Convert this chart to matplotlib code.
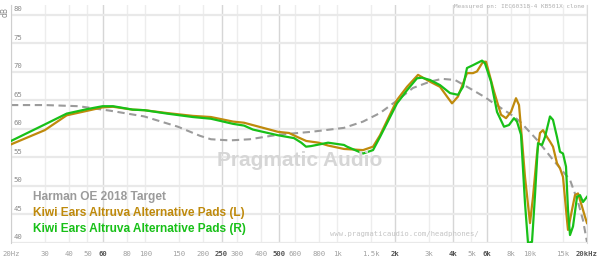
import numpy as np
import matplotlib
matplotlib.use('Agg')
import matplotlib.pyplot as plt

# frequency response data (Hz, dB)
harman_f = [20, 30, 45, 66, 99, 148, 193, 220, 276, 351, 492, 730, 1085, 1363, 1670,
            2050, 2480, 3040, 3510, 4110, 5100, 5800, 6480, 8230, 8960, 10980, 13300,
            16300, 17960, 19060, 20000]
harman_db = [64.2, 64.2, 64.0, 63.2, 62.2, 60.4, 58.8, 58.2, 58.0, 58.2, 59.0, 59.5, 60.2,
             61.3, 62.8, 65.0, 67.2, 68.3, 68.8, 68.6, 66.8, 65.7, 64.6, 62.3, 61.3, 58.1,
             54.6, 51.1, 47.2, 44.0, 40.2]

left_f = [20, 30, 39, 50, 60, 68, 86, 99, 130, 177, 220, 287, 327, 492, 561, 620, 690,
          800, 896, 1085, 1363, 1537, 1671, 2049, 2310, 2636, 3044, 3431, 3731, 3962,
          4258, 4743, 5097, 5348, 5746, 5957, 6250, 6556, 7131, 7572, 8039, 8535, 8849,
          9173, 9508, 10097, 10467, 10980, 11383, 11799, 12378, 12830, 13302, 13956,
          14468, 14997, 15736, 15925, 16708, 17318, 17957, 18836, 19527, 20000]
left_db = [57.3, 59.8, 62.4, 63.2, 63.8, 63.9, 63.4, 63.3, 62.8, 62.3, 62.1, 61.3, 61.1,
           59.5, 59.3, 58.6, 57.9, 57.6, 57.1, 56.5, 56.3, 56.9, 58.9, 65.1, 67.4, 69.5,
           68.3, 67.4, 65.7, 64.5, 65.7, 69.8, 69.8, 70.1, 71.8, 71.8, 69.2, 66.6, 62.5,
           61.9, 63.0, 65.4, 64.2, 58.1, 51.6, 43.5, 48.1, 55.7, 59.3, 59.8, 58.6, 57.8,
           56.9, 54.0, 53.1, 51.6, 44.0, 42.3, 45.8, 48.4, 48.7, 46.4, 44.6, 43.5]

right_f = [20, 30, 39, 50, 60, 68, 86, 99, 130, 177, 220, 287, 327, 364, 492, 596, 650,
           688, 730, 896, 1085, 1125, 1363, 1537, 1671, 2049, 2310, 2604, 2765, 3044,
           3431, 3868, 4258, 4521, 4743, 5097, 5678, 5885, 6325, 6797, 7392, 7848, 8332,
           8638, 9064, 9508, 9857, 10342, 10720, 11112, 11660, 12085, 12830, 13302,
           13956, 14468, 14997, 15548, 15925, 16312, 16909, 17745, 18393, 19064, 20000]
right_db = [57.9, 60.8, 62.7, 63.5, 64.0, 64.0, 63.4, 63.3, 62.7, 62.1, 61.8, 60.9, 60.6,
            59.9, 58.9, 58.4, 57.6, 56.9, 57.0, 57.6, 57.2, 56.9, 55.7, 56.3, 58.6, 64.5,
            66.8, 68.9, 69.0, 68.6, 67.7, 66.3, 66.0, 67.4, 70.7, 71.2, 72.0, 71.5, 68.3,
            63.0, 60.4, 60.7, 61.9, 61.3, 59.0, 47.0, 40.0, 40.2, 48.4, 57.5, 57.2, 58.6,
            62.2, 61.6, 58.6, 56.0, 55.7, 53.4, 45.8, 41.4, 42.9, 48.1, 48.4, 47.2, 48.1]

xticks = [20, 30, 40, 50, 60, 80, 100, 150, 200, 250, 300, 400, 500, 600, 800, 1000,
          1500, 2000, 3000, 4000, 5000, 6000, 8000, 10000, 15000, 20000]
xlabels = ['20Hz', '30', '40', '50', '60', '80', '100', '150', '200', '250', '300', '400',
           '500', '600', '800', '1k', '1.5k', '2k', '3k', '4k', '5k', '6k', '8k', '10k',
           '15k', '20kHz']
bold_ticks = [60, 250, 500, 2000, 4000, 6000, 20000]
yticks = [40, 45, 50, 55, 60, 65, 70, 75, 80]

c_harman = '#9b9b9b'
c_left = '#bf8a0c'
c_right = '#18c018'

fig = plt.figure(figsize=(6, 2.6), dpi=100)
ax = fig.add_axes([11/600, 1-243/260, 576/600, 238/260])
ax.set_xscale('log')
ax.set_xlim(20, 20000)
ax.set_ylim(40, 40 + 238/5.7)

for t in xticks:
    dark = t in bold_ticks
    ax.axvline(t, color='#d6d6d6' if dark else '#ededed', lw=1.0, zorder=0)
for v in yticks:
    ax.axhline(v, color='#e9e9e9', lw=1.6, zorder=0)

ax.plot(harman_f, harman_db, color=c_harman, lw=1.5, dashes=(3.5, 2.2), zorder=2)
ax.plot(left_f, left_db, color=c_left, lw=1.6, zorder=3, solid_joinstyle='round')
ax.plot(right_f, right_db, color=c_right, lw=1.6, zorder=4, solid_joinstyle='round')

ax.set_xticks([])
ax.set_yticks([])
ax.minorticks_off()
for s in ['top', 'bottom']:
    ax.spines[s].set_visible(False)
ax.spines['left'].set_color('#cfcfcf')
ax.spines['right'].set_color('#dcdcdc')

for v in yticks:
    ax.text(0.004, v + 0.45, str(v), transform=ax.get_yaxis_transform(), fontsize=5.2,
            family='DejaVu Sans Mono', color='#8a8a8a', va='bottom', ha='left')
for t, lab in zip(xticks, xlabels):
    b = t in bold_ticks
    ax.text(t, -0.045, lab, transform=ax.get_xaxis_transform(), fontsize=5.2,
            family='DejaVu Sans Mono', color='#555555' if b else '#a0a0a0',
            fontweight='bold' if b else 'normal', ha='center', va='center')

fig.text(5/600, 1-12/260, 'dB', rotation=90, fontsize=5.5, color='#888888',
         ha='center', va='center')

fig.text(300/600, 1-160/260, 'Pragmatic Audio', fontsize=15, fontweight='bold',
         family='Liberation Sans', color='#d6d6d6', ha='center', va='center', zorder=1)
fig.text(404/600, 1-234/260, 'www.pragmaticaudio.com/headphones/', fontsize=5.2,
         family='DejaVu Sans Mono', color='#c4c4c4', ha='center', va='center')
fig.text(585/600, 1-7/260, 'Measured on: IEC60318-4 KB501X clone', fontsize=4.3,
         family='DejaVu Sans Mono', color='#b0b0b0', ha='right', va='center')

legend = [('Harman OE 2018 Target', c_harman, 197),
          ('Kiwi Ears Altruva Alternative Pads (L)', c_left, 213),
          ('Kiwi Ears Altruva Alternative Pads (R)', c_right, 229)]
for txt, col, yy in legend:
    fig.text(33/600, 1-yy/260, txt, fontsize=8.6, fontweight='bold',
             family='Liberation Sans', color=col, ha='left', va='center')

fig.savefig('out.png', dpi=100, facecolor='white')
